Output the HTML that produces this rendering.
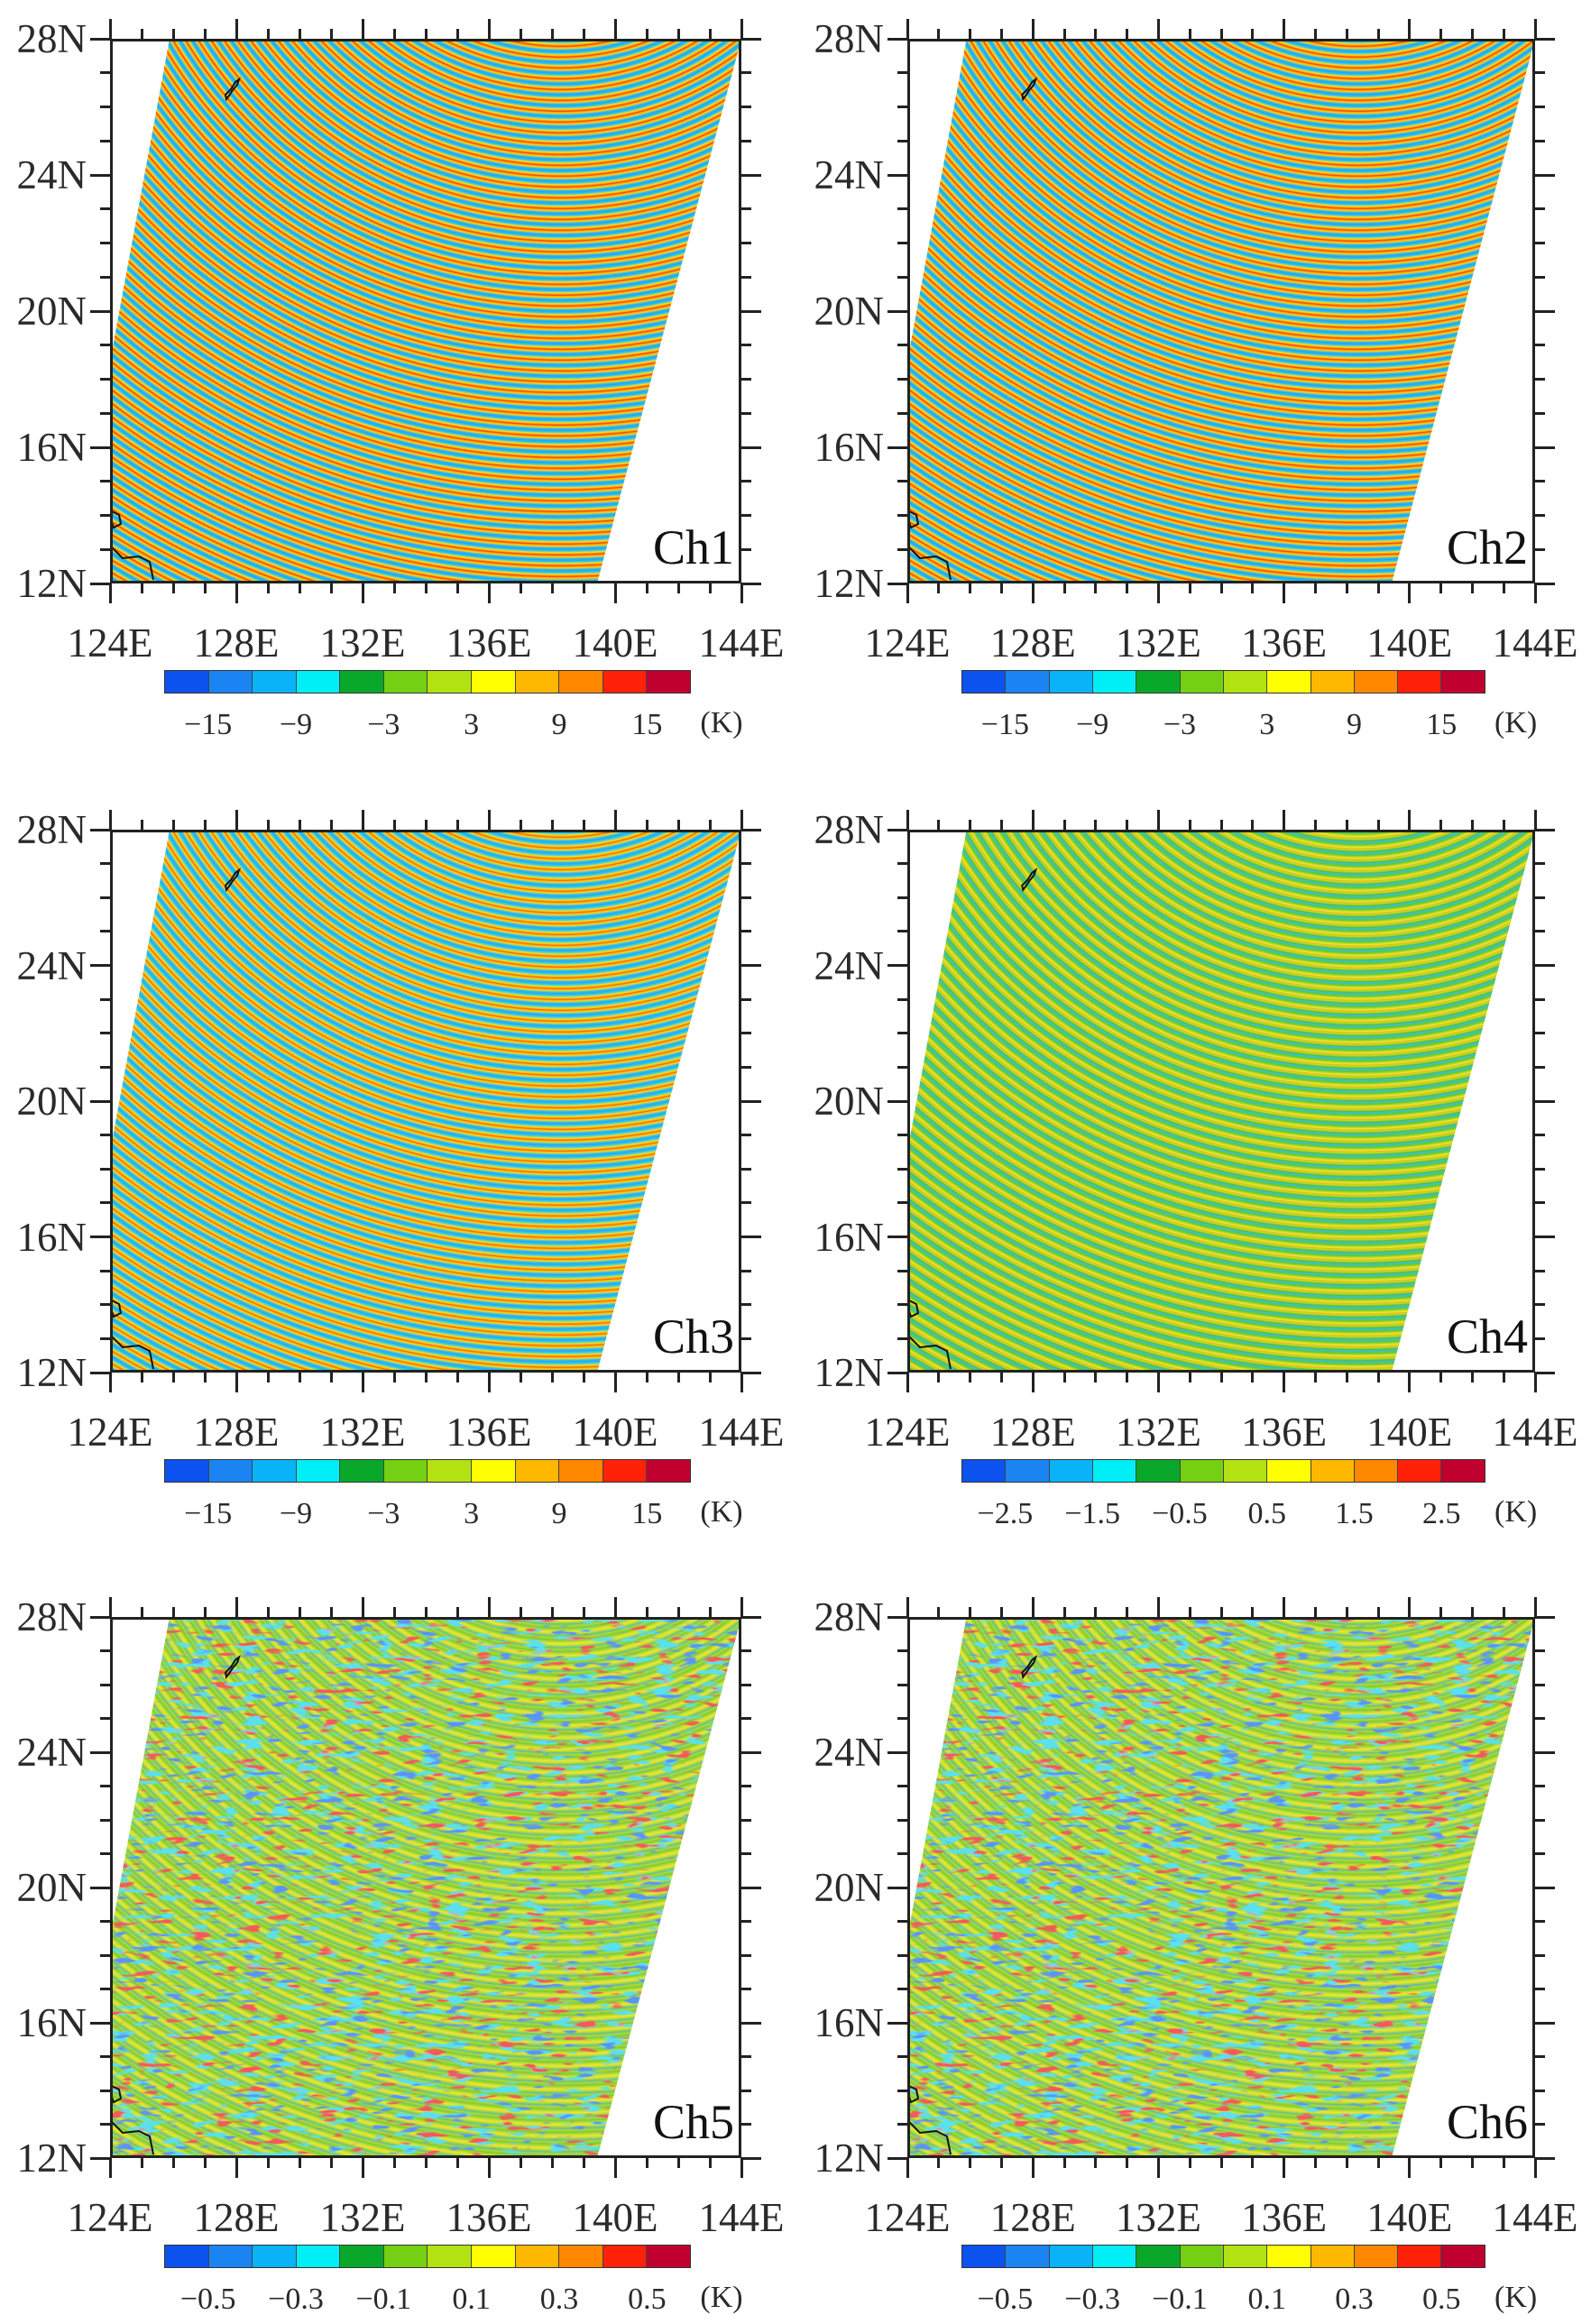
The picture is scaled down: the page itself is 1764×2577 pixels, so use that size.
<!DOCTYPE html>
<html><head><meta charset="utf-8"><style>
body{margin:0;background:#fff;width:1764px;height:2577px;position:relative;overflow:hidden;font-family:"Liberation Serif",serif;color:#2a2a2a}
.p{position:absolute}
.sw{position:absolute;left:0;top:0}
.frame{position:absolute;left:0;top:0;box-sizing:border-box;border:3px solid #222}
.t{position:absolute;background:#222}
.lx{position:absolute;font-size:45px;transform:translate(-50%,-50%);white-space:nowrap}
.ly{position:absolute;font-size:45px;transform:translate(-100%,-50%);white-space:nowrap}
.ch{position:absolute;font-size:54px;transform:translate(-100%,-50%);color:#111}
.cb{position:absolute;display:flex;border:1.5px solid #333;box-sizing:border-box}
.cb div{flex:1;border-right:1px solid #444}
.cb div:last-child{border-right:none}
.cl{position:absolute;font-size:34px;transform:translate(-50%,-50%);white-space:nowrap}
.isl{position:absolute;left:0;top:0;overflow:visible}
</style></head><body>
<svg width="0" height="0" style="position:absolute">
<filter id="nz" x="0" y="0" width="100%" height="100%">
<feTurbulence type="fractalNoise" baseFrequency="0.035 0.14" numOctaves="2" seed="5" result="n"/>
<feColorMatrix in="n" type="matrix" values="0 0 0 0 0.9  0 0 0 0 0.1  0 0 0 0 0.1  10 0 0 0 -6.4" result="r"/>
<feColorMatrix in="n" type="matrix" values="0 0 0 0 0.1  0 0 0 0 0.3  0 0 0 0 0.95  -10 0 0 0 3.6" result="b"/>
<feColorMatrix in="n" type="matrix" values="0 0 0 0 0.1  0 0 0 0 0.75  0 0 0 0 0.85  0 -9 0 0 3.8" result="c"/>
<feMerge><feMergeNode in="c"/><feMergeNode in="r"/><feMergeNode in="b"/></feMerge>
</filter>
</svg>
<script>
var S1="repeating-radial-gradient(circle at 500px -250px,#1fa6f0 0px,#35c6ea 2px,#f2e028 3.8px,#ffac00 5px,#ff3a12 6.3px,#ffac00 7.6px,#ecd224 9px,#33bcee 10.4px,#1fa6f0 12px)";
var S3="repeating-radial-gradient(circle at 500px -250px,#22aaf0 0px,#3ad0e6 2.2px,#e8e030 4px,#ffb000 5.3px,#ff5a10 6.3px,#ffb000 7.3px,#e6da30 8.6px,#36c0ec 10.3px,#22aaf0 12px)";
var S4="repeating-radial-gradient(circle at 500px -250px,#3cc0d8 0px,#64c830 2.5px,#b8e020 4.5px,#f4e830 6px,#f0b020 7px,#c0e020 8.5px,#50c040 10.5px,#3cc0d8 12px)";
var S5="repeating-radial-gradient(circle at 500px -250px,#b0da34 0px,#7ccc38 2.5px,#c4e030 5px,#eee43a 7px,#a8d834 9.5px,#60c0a0 11px,#b0da34 13px)";
var panels=[
 {x:122,y:43,w:700,h:604,n:"Ch1",bg:S1,lab:["−15","−9","−3","3","9","15"]},
 {x:1006,y:43,w:696,h:604,n:"Ch2",bg:S1,lab:["−15","−9","−3","3","9","15"]},
 {x:122,y:920,w:700,h:602,n:"Ch3",bg:S3,lab:["−15","−9","−3","3","9","15"]},
 {x:1006,y:920,w:696,h:602,n:"Ch4",bg:S4,lab:["−2.5","−1.5","−0.5","0.5","1.5","2.5"]},
 {x:122,y:1793,w:700,h:600,n:"Ch5",bg:S5,nz:1,lab:["−0.5","−0.3","−0.1","0.1","0.3","0.5"]},
 {x:1006,y:1793,w:696,h:600,n:"Ch6",bg:S5,nz:1,lab:["−0.5","−0.3","−0.1","0.1","0.3","0.5"]}];
var cols=["#0c52ee","#1a84f2","#0ab2f8","#00eef6","#0aa82a","#74d012","#b2e212","#ffff00","#ffb800","#ff8800","#ff2208","#c0002e"];
var h="";
panels.forEach(function(p){
 var W=p.w,H=p.h,sx=W/700,sy=H/604;
 h+='<div class="p" style="left:'+p.x+'px;top:'+p.y+'px;width:'+W+'px;height:'+H+'px">';
 var poly="polygon("+(66*sx)+"px 0px,"+W+"px 0px,"+(540*sx)+"px "+H+"px,0px "+H+"px,0px "+(358*sy)+"px)";
 h+='<div class="sw" style="width:'+W+'px;height:'+H+'px;background:'+p.bg+';clip-path:'+poly+'"></div>';
 if(p.nz){h+='<svg class="sw" width="'+W+'" height="'+H+'" style="clip-path:'+poly+'"><rect width="'+W+'" height="'+H+'" filter="url(#nz)"/></svg>';}
 h+='<svg class="isl" width="'+W+'" height="'+H+'"><path d="M'+(128*sx)+' '+(62*sy)+' l6 -6 l5 -8 l4 -3 l-2 6 l-5 6 l-4 6 l-3 4 z" fill="none" stroke="#111" stroke-width="2"/><path d="M2 '+(H-80)+' l8 4 l2 10 l-8 4 l-2 -6 z M2 '+(H-40)+' l12 12 l18 -2 l12 6 l4 20" fill="none" stroke="#111" stroke-width="2"/></svg>';
 h+='<div class="frame" style="width:'+W+'px;height:'+H+'px"></div>';
 for(var i=0;i<=20;i++){var X=i*W/20,L=(i%4==0)?22:11;
  h+='<div class="t" style="left:'+(X-1.5)+'px;top:'+(H)+'px;width:3px;height:'+L+'px"></div>';
  h+='<div class="t" style="left:'+(X-1.5)+'px;top:'+(-L)+'px;width:3px;height:'+L+'px"></div>';
  if(i%4==0)h+='<div class="lx" style="left:'+X+'px;top:'+(H+66)+'px">'+(124+i)+'E</div>';}
 for(var j=0;j<=16;j++){var Y=H-j*H/16,L2=(j%4==0)?22:11;
  h+='<div class="t" style="left:'+(-L2)+'px;top:'+(Y-1.5)+'px;width:'+L2+'px;height:3px"></div>';
  h+='<div class="t" style="left:'+W+'px;top:'+(Y-1.5)+'px;width:'+L2+'px;height:3px"></div>';
  if(j%4==0)h+='<div class="ly" style="left:-26px;top:'+Y+'px">'+(12+j)+'N</div>';}
 h+='<div class="ch" style="left:'+(W-8)+'px;top:'+(H-40)+'px">'+p.n+'</div>';
 var cbw=584*sx;
 h+='<div class="cb" style="left:60px;top:'+(H+96)+'px;width:'+cbw+'px;height:26px">';
 cols.forEach(function(c){h+='<div style="background:'+c+'"></div>';});
 h+='</div>';
 for(var k=0;k<6;k++){h+='<div class="cl" style="left:'+(60+cbw*(1+2*k)/12)+'px;top:'+(H+157)+'px">'+p.lab[k]+'</div>';}
 h+='<div class="cl" style="left:'+(60+cbw+34)+'px;top:'+(H+155)+'px">(K)</div>';
 h+='</div>';
});
document.write(h);
</script>
</body></html>
